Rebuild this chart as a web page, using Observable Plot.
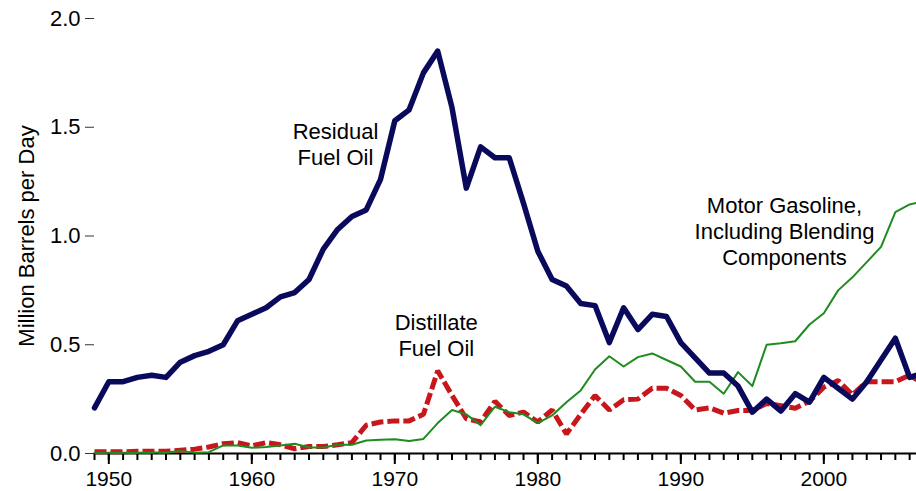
<!DOCTYPE html>
<html><head><meta charset="utf-8">
<script src="https://cdn.jsdelivr.net/npm/d3@7"></script>
<script src="https://cdn.jsdelivr.net/npm/@observablehq/plot@0.6"></script>
<style>html,body{margin:0;padding:0;background:#fff;overflow:hidden} svg{display:block;overflow:hidden}</style>
</head><body><div id="chart"></div>
<script>
const years = [1949,1950,1951,1952,1953,1954,1955,1956,1957,1958,1959,1960,1961,1962,1963,1964,1965,1966,1967,1968,1969,1970,1971,1972,1973,1974,1975,1976,1977,1978,1979,1980,1981,1982,1983,1984,1985,1986,1987,1988,1989,1990,1991,1992,1993,1994,1995,1996,1997,1998,1999,2000,2001,2002,2003,2004,2005,2006,2007];
const residual = [0.21,0.33,0.33,0.35,0.36,0.35,0.42,0.45,0.47,0.50,
  0.61,0.64,0.67,0.72,0.74,0.80,0.94,1.03,1.09,1.12,
  1.26,1.53,1.58,1.75,1.85,1.59,1.22,1.41,1.36,1.36,
  1.15,0.93,0.80,0.77,0.69,0.68,0.51,0.67,0.57,0.64,
  0.63,0.51,0.44,0.37,0.37,0.31,0.19,0.25,0.195,0.275,
  0.236,0.35,0.30,0.25,0.33,0.43,0.53,0.35,0.37];
const gasoline = [0.003,0.003,0.004,0.004,0.005,0.005,0.012,0.004,0.006,0.037,
  0.037,0.026,0.03,0.037,0.045,0.028,0.028,0.04,0.04,0.06,
  0.063,0.066,0.057,0.067,0.14,0.20,0.18,0.13,0.215,0.19,
  0.18,0.14,0.175,0.236,0.29,0.386,0.447,0.40,0.443,0.46,
  0.43,0.40,0.33,0.33,0.275,0.374,0.31,0.50,0.507,0.516,
  0.593,0.645,0.75,0.81,0.88,0.95,1.11,1.145,1.16];
const distillate = [0.008,0.008,0.008,0.01,0.01,0.01,0.015,0.02,0.03,0.045,
  0.05,0.035,0.05,0.04,0.022,0.032,0.032,0.04,0.05,0.13,
  0.145,0.15,0.15,0.18,0.38,0.267,0.16,0.145,0.24,0.175,
  0.19,0.145,0.20,0.09,0.18,0.267,0.20,0.247,0.25,0.30,
  0.30,0.267,0.20,0.21,0.185,0.198,0.198,0.23,0.22,0.208,
  0.24,0.305,0.335,0.27,0.33,0.33,0.33,0.36,0.32];
const yTicks = [0, 0.5, 1.0, 1.5, 2.0];
const decadeTicks = [1950, 1960, 1970, 1980, 1990, 2000];
const labelText = ["Residual\nFuel Oil", "Distillate\nFuel Oil", "Motor Gasoline,\nIncluding Blending\nComponents"];
const labelYear = [1965.85, 1972.9, 1997.25];
const labelValue = [1.425, 0.547, 1.025];
const yTitle = "Million Barrels per Day";

const rows = arr => years.map((year, i) => ({year, value: arr[i]}));
const FONT = 22;

const chart = Plot.plot({
  width: 916, height: 491,
  marginLeft: 94, marginRight: 0, marginTop: 18, marginBottom: 38,
  style: {fontFamily: "'Liberation Sans', Arial, Helvetica, sans-serif", fontSize: FONT + "px", color: "black", background: "white", overflow: "hidden"},
  x: {domain: [1949, 2006.48], axis: null},
  y: {domain: [0, 2], axis: null},
  marks: [
    Plot.axisY({ticks: yTicks, tickSize: 9, tickPadding: 5, tickFormat: d3.format(".1f"), label: null, fontSize: FONT, stroke: "#333"}),
    Plot.axisX({ticks: years, tickSize: 7, tickFormat: () => "", label: null, strokeWidth: 2, stroke: "black"}),
    Plot.axisX({ticks: decadeTicks, tickSize: 11, tickPadding: 7, tickFormat: d => String(d), label: null, strokeWidth: 2, stroke: "black", fontSize: 21}),
    Plot.ruleY([0], {strokeWidth: 2.2}),
    Plot.line(rows(distillate), {x: "year", y: "value", stroke: "#c8161d", strokeWidth: 5, strokeDasharray: "12,4", strokeLinejoin: "miter", strokeLinecap: "butt"}),
    Plot.line(rows(gasoline), {x: "year", y: "value", stroke: "#1e8c1e", strokeWidth: 2}),
    Plot.line(rows(residual), {x: "year", y: "value", stroke: "#0a0a5c", strokeWidth: 5.5}),
    Plot.text(labelText, {x: (d, i) => labelYear[i], y: (d, i) => labelValue[i], text: d => d, fontSize: FONT, lineHeight: 1.2, fill: "black"}),
    Plot.text([yTitle], {text: d => d, frameAnchor: "left", textAnchor: "middle", rotate: -90, dx: -68, fontSize: FONT, fill: "black"})
  ]
});
document.getElementById("chart").appendChild(chart);
</script>
</body></html>
